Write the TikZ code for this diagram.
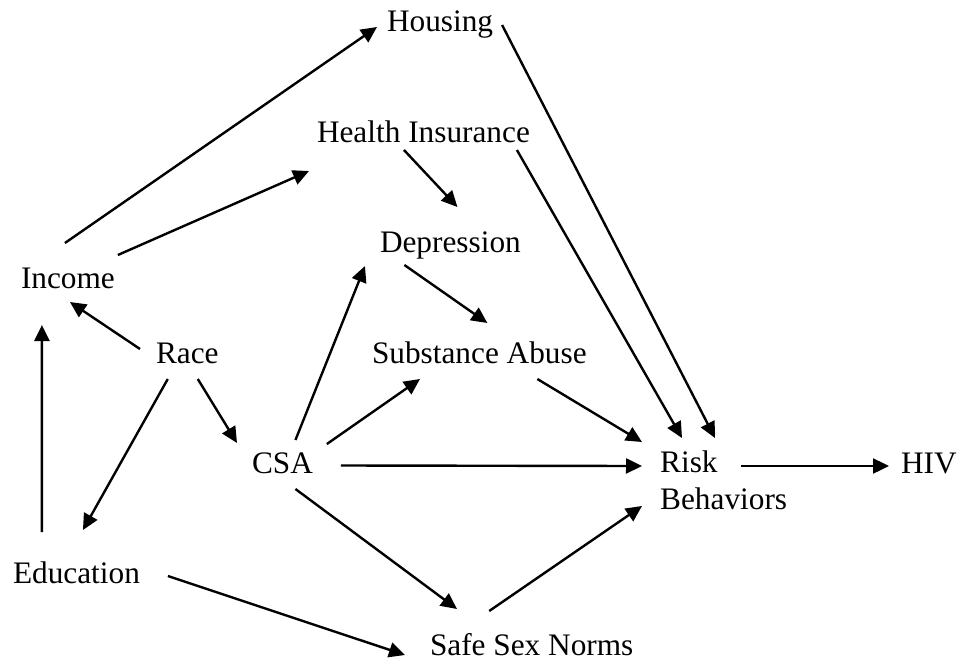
\documentclass[tikz,border=0pt]{standalone}
\usepackage{fontspec}
\setmainfont{Liberation Serif}
\usetikzlibrary{arrows.meta}
\tikzset{lbl/.style={inner sep=0pt, outer sep=0pt, text height=22pt, text depth=7pt, anchor=base west},
% arrows of the path diagram
arr/.style={-{Triangle[length=16pt,width=15pt]}, line width=2.4pt}}

\begin{document}
\begin{tikzpicture}[x=1pt, y=-1pt, font=\fontsize{31.3}{37}\selectfont]
\useasboundingbox (0,0) rectangle (959,662);

\node[lbl] (hous) at (387,31) {Housing};
\node[lbl] (hlth) at (317,142) {Health Insurance};
\node[lbl] (depr) at (380,252) {Depression};
\node[lbl] (inc) at (21,288) {Income};
\node[lbl] (race) at (156,363) {Race};
\node[lbl] (sub) at (372,363) {Substance Abuse};
\node[lbl] (csa) at (252,473) {CSA};
\node[inner sep=0pt, anchor=north west, align=left] (risk) at (660,451) {Risk\\Behaviors};
\node[lbl] (hiv) at (901,473) {HIV};
\node[lbl] (edu) at (13,583) {Education};
\node[lbl] (ssn) at (430,655) {Safe Sex Norms};

\draw[arr] ([shift={(-3,-23)}]inc.north) -- ([shift={(-10,3.5)}]hous.west);
\draw[arr] ([shift={(3,-11)}]inc.north east) -- ([shift={(-8,36.5)}]hlth.west);
\draw[arr] ([shift={(-19.5,1)}]hlth.south) -- ([shift={(7,-23)}]depr.north);
\draw[arr] ([shift={(13,-11)}]csa.north) -- ([shift={(-15,7)}]depr.south west);
\draw[arr] ([shift={(-46,6)}]depr.south) -- ([shift={(8,-18)}]sub.north);
\draw[arr] ([shift={(9,1.5)}]hous.east) -- ([shift={(55,-13)}]risk.north west);
\draw[arr] ([shift={(-13,1)}]hlth.south east) -- ([shift={(22,-13)}]risk.north west);
\draw[arr] ([shift={(-16,-6.5)}]race.west) -- ([shift={(2,7)}]inc.south);
\draw[arr] ([shift={(-34.5,-29)}]edu.north) -- ([shift={(-26,30)}]inc.south);
\draw[arr] ([shift={(-19.5,9)}]race.south) -- ([shift={(6.5,-31)}]edu.north);
\draw[arr] ([shift={(10.5,9)}]race.south) -- ([shift={(-15,-8)}]csa.north west);
\draw[arr] ([shift={(14,-7)}]csa.north east) -- ([shift={(48,9)}]sub.south west);
\draw[arr] ([shift={(28,0)}]csa.east) -- ([shift={(-18,15)}]risk.north west);
\draw[arr] ([shift={(13,9)}]csa.south) -- ([shift={(27,-24)}]ssn.north west);
\draw[arr] ([shift={(28,0.5)}]edu.east) -- ([shift={(-25,7.5)}]ssn.west);
\draw[arr] ([shift={(-42.5,-22)}]ssn.north) -- ([shift={(-18,55)}]risk.north west);
\draw[arr] ([shift={(58,9)}]sub.south) -- ([shift={(-18,-9)}]risk.north west);
\draw[arr] ([shift={(81,15)}]risk.north west) -- ([shift={(-12,0.5)}]hiv.west);

\end{tikzpicture}
\end{document}
